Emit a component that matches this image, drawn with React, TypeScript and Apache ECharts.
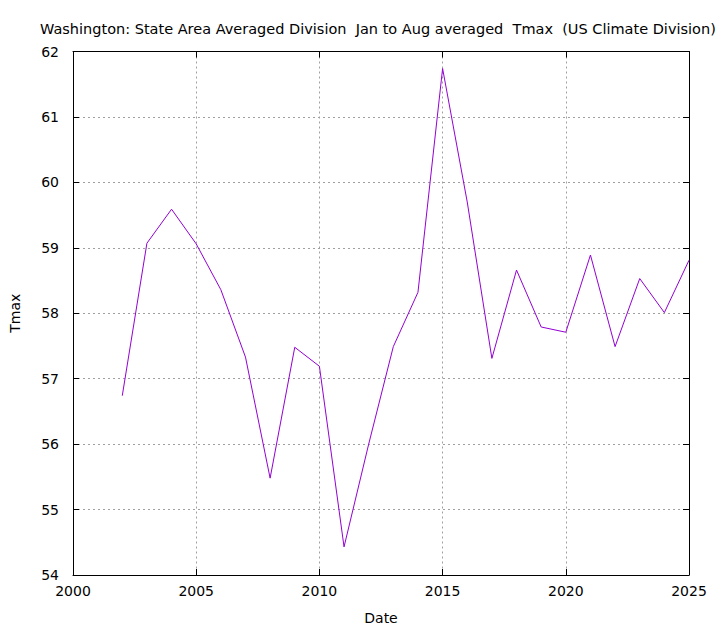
import React, { useEffect, useRef } from "react";
import * as echarts from "echarts";

const years = [2002, 2003, 2004, 2005, 2006, 2007, 2008, 2009, 2010, 2011, 2012, 2013, 2014, 2015, 2016, 2017, 2018, 2019, 2020, 2021, 2022, 2023, 2024, 2025];
const tmax = [56.74, 59.07, 59.59, 59.06, 58.36, 57.33, 55.48, 57.48, 57.19, 54.43, 56.0, 57.49, 58.32, 61.74, 59.7, 57.31, 58.66, 57.79, 57.71, 58.89, 57.49, 58.53, 58.01, 58.81];
const titleText = "Washington: State Area Averaged Division  Jan to Aug averaged  Tmax  (US Climate Division)";
const xLabel = "Date";
const yLabel = "Tmax";

const FONT = "DejaVu Sans";

export default function App() {
  const ref = useRef<HTMLDivElement>(null);
  useEffect(() => {
    const chart = echarts.init(ref.current!, null, { renderer: "svg" });
    const tickStyle = { show: true, inside: true, length: 6, lineStyle: { color: "#000", width: 1 } };
    const gridLine = { show: true, lineStyle: { color: "#a0a0a0", type: [2, 3] as any, width: 1 } };
    chart.setOption({
      animation: false,
      backgroundColor: "#fff",
      textStyle: { fontFamily: FONT },
      title: {
        text: titleText,
        left: 35,
        top: 16,
        textStyle: { fontFamily: FONT, fontSize: 14.5, fontWeight: "normal", color: "#000" },
      },
      grid: { left: 71, right: 31, top: 51.5, bottom: 55, containLabel: false },
      xAxis: [
        {
          type: "value",
          min: 2000,
          max: 2025,
          interval: 5,
          name: xLabel,
          nameLocation: "middle",
          nameGap: 36,
          nameTextStyle: { fontFamily: FONT, fontSize: 14, color: "#000" },
          axisLine: { show: true, onZero: false, lineStyle: { color: "#000", width: 1 } },
          axisTick: tickStyle,
          axisLabel: { fontFamily: FONT, fontSize: 14, color: "#000", margin: 9, formatter: (v: number) => String(v) },
          splitLine: gridLine,
        },
        {
          type: "value",
          position: "top",
          min: 2000,
          max: 2025,
          interval: 5,
          axisLine: { show: true, onZero: false, lineStyle: { color: "#000", width: 1 } },
          axisTick: tickStyle,
          axisLabel: { show: false },
          splitLine: { show: false },
        },
      ],
      yAxis: [
        {
          type: "value",
          min: 54,
          max: 62,
          interval: 1,
          name: yLabel,
          nameLocation: "middle",
          nameGap: 51,
          nameRotate: 90,
          nameTextStyle: { fontFamily: FONT, fontSize: 14, color: "#000" },
          axisLine: { show: true, onZero: false, lineStyle: { color: "#000", width: 1 } },
          axisTick: tickStyle,
          axisLabel: { fontFamily: FONT, fontSize: 14, color: "#000", margin: 14 },
          splitLine: gridLine,
        },
        {
          type: "value",
          position: "right",
          min: 54,
          max: 62,
          interval: 1,
          axisLine: { show: true, onZero: false, lineStyle: { color: "#000", width: 1 } },
          axisTick: tickStyle,
          axisLabel: { show: false },
          splitLine: { show: false },
        },
      ],
      series: [
        {
          type: "line",
          data: years.map((y, i) => [y, tmax[i]]),
          showSymbol: false,
          symbol: "none",
          lineStyle: { color: "#9400d3", width: 1 },
          xAxisIndex: 0,
          yAxisIndex: 0,
        },
      ],
    });
    return () => chart.dispose();
  }, []);
  return <div ref={ref} style={{ position: "fixed", left: 0, top: 0, width: 720, height: 630 }} />;
}
